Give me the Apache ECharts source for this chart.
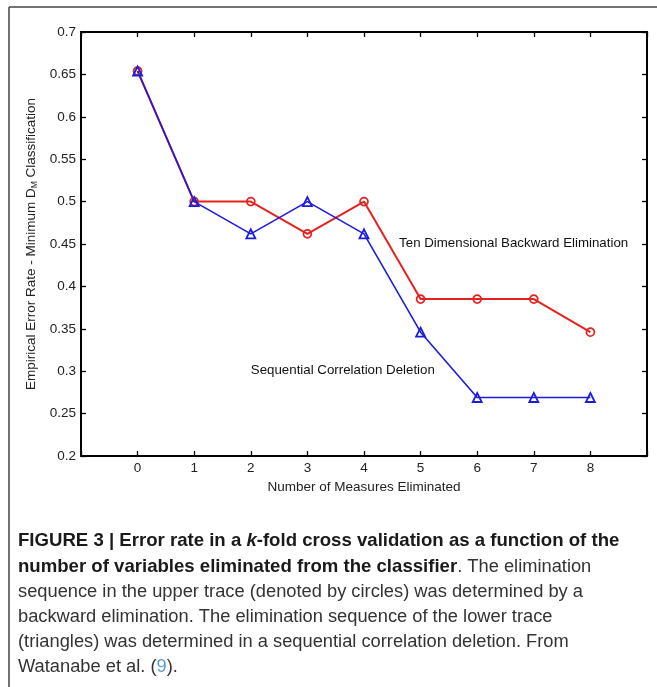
<!DOCTYPE html>
<html>
<head>
<meta charset="utf-8">
<script src="https://cdn.jsdelivr.net/npm/echarts@6/dist/echarts.min.js"></script>
<style>
  html, body { margin: 0; padding: 0; background: #fff; }
  #chart { width: 657px; height: 687px; }
</style>
</head>
<body>
<div id="chart"></div>
<script>
// number of measures eliminated
var steps = [0, 1, 2, 3, 4, 5, 6, 7, 8];
// error rates (circles, upper trace)
var backwardElim = [0.654, 0.5, 0.5, 0.462, 0.5, 0.385, 0.385, 0.385, 0.346];
// error rates (triangles, lower trace)
var seqCorrDel = [0.654, 0.5, 0.462, 0.5, 0.462, 0.346, 0.269, 0.269, 0.269];

var red = '#e6221f';
var blue = '#1c1cdc';
var axisFont = 'Liberation Sans, Arial, sans-serif';
var capFont = '"Liberation Sans", Arial, sans-serif';
var capSize = 18.3;

var chartDom = document.getElementById('chart');
var myChart = echarts.init(chartDom);
var option;

function pairs(xs, ys) {
  return xs.map(function (x, i) { return [x, ys[i]]; });
}

var tickStyle = { show: true, inside: true, length: 5, lineStyle: { color: '#000', width: 1.3 } };
var lineStyleAxis = { show: true, onZero: false, lineStyle: { color: '#000', width: 2 } };

option = {
  animation: false,
  backgroundColor: '#fff',
  grid: { left: 81, top: 32, right: 10, bottom: 231, containLabel: false },
  xAxis: [
    {
      type: 'value', min: -1, max: 9, interval: 1, position: 'bottom',
      name: 'Number of Measures Eliminated', nameLocation: 'middle', nameGap: 17,
      nameTextStyle: { fontFamily: axisFont, fontSize: 13.5, color: '#222' },
      axisLine: lineStyleAxis, axisTick: tickStyle, splitLine: { show: false },
      axisLabel: {
        fontFamily: axisFont, fontSize: 13.5, color: '#222', margin: 5,
        formatter: function (v) { return (v < 0 || v > 8) ? '' : String(v); }
      }
    },
    {
      type: 'value', min: -1, max: 9, interval: 1, position: 'top',
      axisLine: lineStyleAxis, axisTick: tickStyle, splitLine: { show: false },
      axisLabel: { show: false }
    }
  ],
  yAxis: [
    {
      type: 'value', min: 0.2, max: 0.7, interval: 0.05, position: 'left',
      name: '{n|Empirical Error Rate - Minimum D}{s|M}{n| Classification}',
      nameLocation: 'middle', nameGap: 38, nameRotate: 90,
      nameTextStyle: {
        fontFamily: axisFont, fontSize: 13.5, color: '#222',
        rich: {
          n: { fontFamily: axisFont, fontSize: 13.5, color: '#222' },
          s: { fontFamily: axisFont, fontSize: 8.5, color: '#222', verticalAlign: 'bottom', padding: [6, 0, 0, 0] }
        }
      },
      axisLine: lineStyleAxis, axisTick: tickStyle, splitLine: { show: false },
      axisLabel: {
        fontFamily: axisFont, fontSize: 13.5, color: '#222', margin: 5,
        formatter: function (v) { return String(Math.round(v * 100) / 100); }
      }
    },
    {
      type: 'value', min: 0.2, max: 0.7, interval: 0.05, position: 'right',
      axisLine: lineStyleAxis, axisTick: tickStyle, splitLine: { show: false },
      axisLabel: { show: false }
    }
  ],
  series: [
    {
      name: 'Ten Dimensional Backward Elimination',
      type: 'line',
      data: pairs(steps, backwardElim),
      symbol: 'circle', symbolSize: 8,
      lineStyle: { color: red, width: 2 },
      itemStyle: { color: 'rgba(255,255,255,0)', borderColor: red, borderWidth: 1.7 },
      markPoint: {
        symbol: 'circle', symbolSize: 0,
        label: { show: true, position: 'right', distance: 0, fontFamily: axisFont, fontSize: 13.3, color: '#111', formatter: '{b}' },
        data: [{ name: 'Ten Dimensional Backward Elimination', coord: [4.62, 0.451] }]
      }
    },
    {
      name: 'Sequential Correlation Deletion',
      type: 'line',
      data: pairs(steps, seqCorrDel),
      symbol: 'triangle', symbolSize: 9,
      lineStyle: { color: blue, width: 1.6 },
      itemStyle: { color: 'rgba(255,255,255,0)', borderColor: blue, borderWidth: 1.8 },
      markPoint: {
        symbol: 'circle', symbolSize: 0,
        label: { show: true, position: 'right', distance: 0, fontFamily: axisFont, fontSize: 13.3, color: '#111', formatter: '{b}' },
        data: [{ name: 'Sequential Correlation Deletion', coord: [2.0, 0.301] }]
      }
    }
  ],
  graphic: [
    // figure frame (top and left edges)
    { type: 'line', shape: { x1: 9, y1: 7, x2: 657, y2: 7 }, style: { stroke: '#444', lineWidth: 1.5 }, silent: true },
    { type: 'line', shape: { x1: 9, y1: 7, x2: 9, y2: 687 }, style: { stroke: '#444', lineWidth: 1.5 }, silent: true },
    {
      type: 'text', left: 18, top: 531,
      style: {
        text: '{b|FIGURE 3 | Error rate in a }{bi|k}{b|-fold cross validation as a function of the}',
        rich: {
          b: { fontFamily: capFont, fontSize: capSize + 0.3, fontWeight: 'bold', fill: '#1a1a1a' },
          bi: { fontFamily: capFont, fontSize: capSize + 0.3, fontWeight: 'bold', fontStyle: 'italic', fill: '#1a1a1a' }
        }
      }
    },
    {
      type: 'text', left: 18, top: 557,
      style: {
        text: '{b|number of variables eliminated from the classifier}{n|. The elimination}',
        rich: {
          b: { fontFamily: capFont, fontSize: capSize + 0.3, fontWeight: 'bold', fill: '#1a1a1a' },
          n: { fontFamily: capFont, fontSize: capSize, fill: '#333' }
        }
      }
    },
    { type: 'text', left: 18, top: 583, style: { text: 'sequence in the upper trace (denoted by circles) was determined by a', fontFamily: capFont, fontSize: capSize, fill: '#333' } },
    { type: 'text', left: 18, top: 608, style: { text: 'backward elimination. The elimination sequence of the lower trace', fontFamily: capFont, fontSize: capSize, fill: '#333' } },
    { type: 'text', left: 18, top: 633, style: { text: '(triangles) was determined in a sequential correlation deletion. From', fontFamily: capFont, fontSize: capSize, fill: '#333' } },
    {
      type: 'text', left: 18, top: 658,
      style: {
        text: '{n|Watanabe et al. (}{l|9}{n|).}',
        rich: {
          n: { fontFamily: capFont, fontSize: capSize, fill: '#333' },
          l: { fontFamily: capFont, fontSize: capSize, fill: '#5b9bd5' }
        }
      }
    }
  ]
};

option && myChart.setOption(option);
</script>
</body>
</html>
